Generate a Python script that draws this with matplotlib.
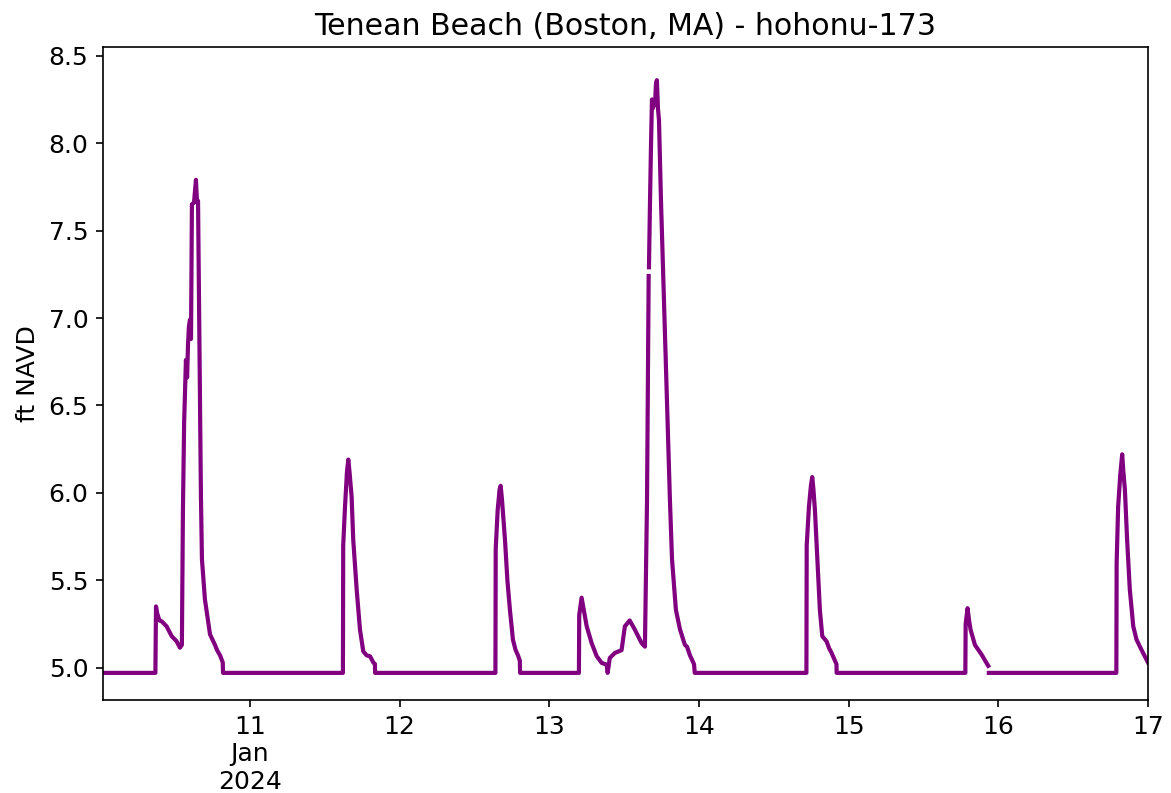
import numpy as np
import pandas as pd
import matplotlib
matplotlib.use("Agg")
import matplotlib.pyplot as plt

plt.rcParams["font.size"] = 12

TITLE = "Tenean Beach (Boston, MA) - hohonu-173"

# time as fractional day of January 2024, water level in ft NAVD (nan = data gap)
jan_day = [
    10.018, 10.368,
    10.372, 10.380, 10.395, 10.410, 10.443, 10.477, 10.510, 10.532, 10.545,
    10.552, 10.560, 10.572, 10.580, 10.586, 10.592, 10.599, 10.606, 10.612,
    10.626, 10.639, 10.646, 10.653, 10.659, 10.666, 10.672, 10.679, 10.699,
    10.733, 10.766, 10.780, 10.800, 10.818, 10.820,
    11.621, 11.623, 11.635, 11.648, 11.657, 11.665, 11.679, 11.690, 11.713,
    11.735, 11.757, 11.780, 11.802, 11.824, 11.835, 11.836,
    12.640, 12.642, 12.655, 12.668, 12.675, 12.684, 12.704, 12.720, 12.737,
    12.757, 12.775, 12.791, 12.803, 12.805,
    13.198, 13.200, 13.216, 13.250, 13.283, 13.317, 13.350, 13.383, 13.390,
    13.404, 13.438, 13.483, 13.505, 13.537, 13.570, 13.617, 13.639,
    13.645, 13.653, 13.660, 13.664, 13.665, 13.666, 13.672, 13.679, 13.686,
    13.693, 13.700, 13.706, 13.713, 13.719, 13.726, 13.733, 13.746, 13.766,
    13.786, 13.806, 13.820, 13.846, 13.873, 13.906, 13.920, 13.940, 13.967,
    13.972,
    14.718, 14.720, 14.735, 14.748, 14.757, 14.765, 14.775, 14.791, 14.808,
    14.824, 14.853, 14.870, 14.883, 14.911, 14.919, 14.920,
    15.780, 15.782, 15.795, 15.805, 15.815, 15.844, 15.889, 15.933, 15.935,
    15.937,
    16.789, 16.791, 16.801, 16.815, 16.828, 16.836, 16.846, 16.861, 16.879,
    16.902, 16.924, 16.958, 16.991, 17.000,
]
level_ft = [
    4.97, 4.97,
    5.35, 5.31, 5.27, 5.265, 5.236, 5.18, 5.15, 5.114, 5.13,
    5.90, 6.40, 6.76, 6.66, 6.85, 6.95, 6.99, 6.88, 7.65,
    7.66, 7.79, 7.66, 7.67, 7.16, 6.53, 6.00, 5.62, 5.39,
    5.19, 5.13, 5.10, 5.07, 5.03, 4.97,
    4.97, 5.70, 5.92, 6.12, 6.19, 6.12, 5.98, 5.73, 5.446,
    5.217, 5.093, 5.07, 5.065, 5.03, 5.02, 4.97,
    4.97, 5.68, 5.90, 6.02, 6.04, 5.96, 5.73, 5.50, 5.33,
    5.16, 5.10, 5.07, 5.04, 4.97,
    4.97, 5.30, 5.40, 5.236, 5.14, 5.065, 5.027, 5.017, 4.97,
    5.055, 5.084, 5.10, 5.236, 5.27, 5.22, 5.14, 5.12,
    5.50, 5.96, 6.80, 7.24, np.nan, 7.29, 7.62, 7.96, 8.25,
    8.20, 8.24, 8.22, 8.34, 8.36, 8.20, 8.13, 7.68, 7.10,
    6.53, 5.96, 5.62, 5.33, 5.22, 5.13, 5.12, 5.07, 5.02,
    4.97,
    4.97, 5.70, 5.92, 6.04, 6.09, 6.02, 5.90, 5.62, 5.33,
    5.18, 5.15, 5.11, 5.09, 5.036, 5.02, 4.97,
    4.97, 5.25, 5.34, 5.27, 5.217, 5.13, 5.074, 5.01, np.nan,
    4.97,
    4.97, 5.60, 5.92, 6.10, 6.22, 6.12, 6.02, 5.73, 5.446,
    5.236, 5.16, 5.10, 5.046, 5.03,
]

day_ticks = [11, 12, 13, 14, 15, 16, 17]
day_labels = ["11\nJan\n2024", "12", "13", "14", "15", "16", "17"]

base = pd.Timestamp("2024-01-01")
times = base + pd.to_timedelta(np.array(jan_day) - 1, unit="D")

fig = plt.figure(figsize=(7.813, 5.287), dpi=150)
ax = fig.add_axes([0.0879, 0.1173, 0.8916, 0.8234])
ax.plot(times, level_ft, color="purple", lw=2)

ax.set_title(TITLE)
ax.set_ylabel("ft NAVD")
ax.set_xlim(times[0], times[-1])
ax.set_ylim(4.815, 8.55)
ax.set_yticks(np.arange(5.0, 8.51, 0.5))
ax.set_xticks([base + pd.Timedelta(days=d - 1) for d in day_ticks])
ax.set_xticklabels(day_labels)

fig.savefig("out.png", dpi=150)
